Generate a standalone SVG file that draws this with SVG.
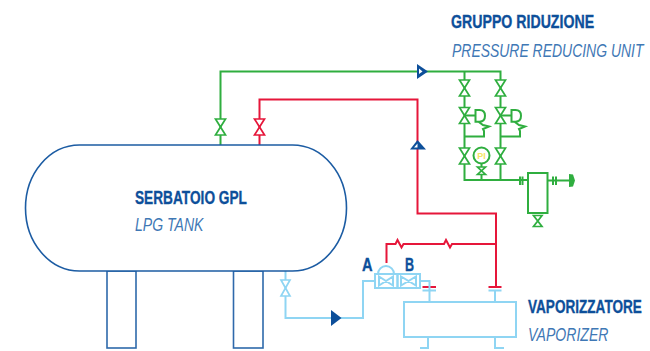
<svg xmlns="http://www.w3.org/2000/svg" width="650" height="351" viewBox="0 0 650 351">
<style>
.t{font-family:"Liberation Sans",Arial,sans-serif;font-size:19px}
.b{font-weight:700;fill:#0d4f9a;stroke:#0d4f9a;stroke-width:.35}
.i{font-style:italic;fill:#3f78b5}
.tank{fill:#fff;stroke:#1c5ca3;stroke-width:1.6}
.leg{fill:#fff;stroke:#2e69ab;stroke-width:1.6}
.g{fill:none;stroke:#2fae3f;stroke-width:2}
.r{fill:none;stroke:#e6163a;stroke-width:2}
.l{fill:none;stroke:#8fd5f3;stroke-width:2}
.vg{fill:#fff;stroke:#2fae3f;stroke-width:1.7}
.vr{fill:#fff;stroke:#e6163a;stroke-width:1.7}
.vl{fill:#fff;stroke:#8fd5f3;stroke-width:1.7}
.ar{fill:#0d4f9a;stroke:none}
</style>
<defs>
<path id="vg" class="vg" d="M-5-8H5L-5 8H5Z"/>
<path id="vr" class="vr" d="M-5-8H5L-5 8H5Z"/>
<path id="vl" class="vl" d="M-4.500-8H4.500L-4.500 8H4.500Z"/>
<g id="reg"><path class="g" d="M0 8.500H11M11 3H15Q20.500 3 20.500 8.800T15 14.700H11ZM14 14.700L18.500 18L24.500 19.500L18.500 22L19.500 24V29.500H0"/><use href="#vg" x="0" y="8.500"/></g>
</defs>
<g id="connectors">
<path class="g" d="M220.500 145V71.500H500.500V180M464.500 71.500V180H528"/>
<path class="g" d="M481.500 164V180M547 180.500H570"/>
<path class="r" d="M259.500 145V99.500H417.500V213.500H496V287M496 244H452L450 247.500L446 240L444 244H403.500L401.500 247.500L397.500 240L395.500 244H386.500V263"/>
<path class="r" d="M422.500 287H436M488.500 287H501.500"/>
<path class="l" d="M285.500 271V318H363V281H375M420 281H429.500V290M422.500 290.500H436M429.500 290V302M488.500 290.500H501.500M495 290V302M428 337V348H420M495 337V348H504"/>
</g>
<g id="tank"><rect class="leg" x="107" y="271" width="29" height="77"/><rect class="leg" x="233.500" y="271" width="29.500" height="77"/><rect class="tank" x="25.500" y="145" width="321" height="126" rx="54" ry="63"/>
<text class="t b" transform="translate(135,204) scale(.72,1)">SERBATOIO GPL</text>
<text class="t i" transform="translate(135,231) scale(.74,1)">LPG TANK</text></g>
<g id="valve-green-tank"><use href="#vg" x="220.500" y="127"/></g>
<g id="valve-red-tank"><use href="#vr" x="259.500" y="127"/></g>
<g id="valve-liquid"><use href="#vl" x="285.500" y="288"/></g>
<g id="check-green"><path class="ar" d="M417 64L428 71.500L417 79Z"/><path d="M419 68.500L422.500 71.500L419 74Z" fill="#fff"/></g>
<g id="check-red"><path class="ar" d="M410 149.500L417.500 140L426 149.500Z"/><path d="M414 147.500L417.500 143.500V147.500Z" fill="#fff"/></g>
<g id="check-liquid"><path class="ar" d="M331 310L341.500 318L331 326Z"/></g>
<g id="pressure-reducing-unit">
<use href="#vg" x="464.500" y="88"/><use href="#vg" x="500.500" y="88"/>
<use href="#reg" x="464.500" y="107"/><use href="#reg" x="500.500" y="107"/>
<use href="#vg" x="464.500" y="156"/><use href="#vg" x="500.500" y="156"/>
<circle cx="481.500" cy="155.500" r="8" fill="#fff" stroke="#2fae3f" stroke-width="2"/>
<text x="481.500" y="159" text-anchor="middle" font-family="Liberation Sans,Arial,sans-serif" font-size="9" font-weight="700" fill="#f5e663">PI</text>
<path class="vg" d="M477.500 167H485.500L477.500 174.500H485.500Z"/>
<path class="g" d="M520 176.500V185M522.500 176.500V185M553 176.500V185M556 176.500V185"/>
<rect class="g" x="528" y="173" width="19.500" height="40"/>
<path class="vg" d="M533.500 215.500H542L533.500 226.500H542Z"/>
<path d="M569 174L573 174.500L575 180.500L573 186.500L569 187Z" fill="#2fae3f"/>
</g>
<g id="control-valves">
<rect class="l" x="375" y="274" width="22.500" height="14"/><rect class="l" x="397.500" y="274" width="22.500" height="14"/>
<path class="l" d="M379 276.500V285.500L393 276.500V285.500ZM401 276.500V285.500L416 276.500V285.500Z"/>
<path class="l" d="M378 274A8 8 0 0 1 394 274Z"/>
</g>
<g id="vaporizer"><rect class="l" x="404" y="302" width="112" height="35"/>
<text class="t b" transform="translate(528,313) scale(.715,1)">VAPORIZZATORE</text>
<text class="t i" transform="translate(528,341) scale(.74,1)">VAPORIZER</text></g>
<g id="labels">
<text class="t b" transform="translate(451,28) scale(.745,1)">GRUPPO RIDUZIONE</text>
<text class="t i" transform="translate(452,57) scale(.735,1)">PRESSURE REDUCING UNIT</text>
<text class="t b" transform="translate(362,270.500) scale(.77,1)">A</text>
<text class="t b" transform="translate(405,270.500) scale(.66,1)">B</text>
</g>
</svg>
